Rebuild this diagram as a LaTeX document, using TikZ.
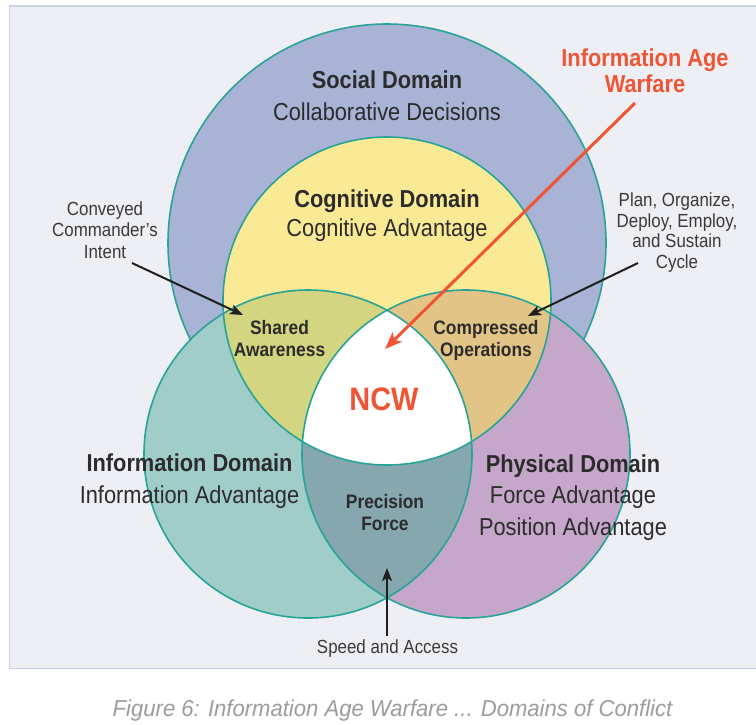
\documentclass[tikz,border=0pt]{standalone}
\usepackage{fontspec}
\setmainfont{Liberation Sans}[FakeStretch=0.89]
\newfontfamily\captionface{Liberation Sans}[FakeStretch=0.96]
\usetikzlibrary{arrows.meta}

% palette
\definecolor{panelbg}{HTML}{EEEFF4}
\definecolor{panelrule}{HTML}{C9D3E1}
\definecolor{socialfill}{HTML}{A9B3D5}
\definecolor{cogfill}{HTML}{FAEA96}
\definecolor{infofill}{HTML}{A0CDC7}
\definecolor{physfill}{HTML}{C5A7CA}
\definecolor{sharedfill}{HTML}{D3D580}
\definecolor{compfill}{HTML}{E2C487}
\definecolor{precfill}{HTML}{87A7AF}
\definecolor{ringcol}{HTML}{28A397}
\definecolor{ncwred}{HTML}{EF5535}
\definecolor{labeltext}{HTML}{2C2C2C}
\definecolor{notetext}{HTML}{3A3A3A}
\definecolor{captiongray}{HTML}{9C9C9C}

\newcommand\fsMain{\fontsize{24.5}{28}\selectfont}
\newcommand\fsSmall{\fontsize{19.5}{22}\selectfont}
\newcommand\fsNote{\fontsize{19}{22}\selectfont}
\newcommand\fsNCW{\fontsize{32.5}{36}\selectfont}
\newcommand\fsCaption{\fontsize{23}{26}\selectfont}

\tikzset{
  ring/.style={draw=ringcol, line width=1.6pt},
  lbl/.style={anchor=base, inner sep=0pt, text=labeltext},
  note/.style={anchor=base, inner sep=0pt, text=notetext, font=\fsNote},
  pointer/.style={draw=black!88, line width=2pt,
    -{Stealth[length=13pt,width=10pt,inset=3pt]}},
  redpointer/.style={draw=ncwred, line width=3pt,
    -{Stealth[length=17pt,width=13pt,inset=4pt]}},
}

\begin{document}
\begin{tikzpicture}[x=1pt,y=-1pt]
\useasboundingbox (0,0) rectangle (756,724);
\fill[white] (0,0) rectangle (756,724);

% background panel
\begin{scope}
  \clip (0,0) rectangle (756,724);
  \draw[draw=panelrule, fill=panelbg, line width=1.5pt] (9.5,6) rectangle (770,668.5);
\end{scope}

% circle centres
\coordinate (cS) at (387,243);
\coordinate (cC) at (387,301);
\coordinate (cI) at (308,454);
\coordinate (cP) at (466,454);

% social domain (lowest layer)
\fill[socialfill] (cS) circle[radius=219pt];
\draw[ring] (cS) circle[radius=219pt];

% information and physical domains
\fill[infofill] (cI) circle[radius=164pt];
\fill[physfill] (cP) circle[radius=164pt];
\begin{scope}
  \clip (cI) circle[radius=164pt];
  \fill[precfill] (cP) circle[radius=164pt];
\end{scope}

% cognitive domain and its overlaps
\fill[cogfill] (cC) circle[radius=164pt];
\begin{scope}
  \clip (cC) circle[radius=164pt];
  \fill[sharedfill] (cI) circle[radius=164pt];
  \fill[compfill] (cP) circle[radius=164pt];
  \clip (cI) circle[radius=164pt];
  \fill[white] (cP) circle[radius=164pt];
\end{scope}

% outlines
\draw[ring] (cI) circle[radius=164pt];
\draw[ring] (cP) circle[radius=164pt];
\draw[ring] (cC) circle[radius=164pt];

% domain labels
\node[lbl, font=\fsMain\bfseries] (socialT) at (387,88) {Social Domain};
\node[lbl, font=\fsMain] (socialS) at (387,120) {Collaborative Decisions};
\node[lbl, font=\fsMain\bfseries] (cogT) at (387,207) {Cognitive Domain};
\node[lbl, font=\fsMain] (cogS) at (387,236) {Cognitive Advantage};
\node[lbl, font=\fsMain\bfseries] (infoT) at (189.5,471.5) {Information Domain};
\node[lbl, font=\fsMain] (infoS) at (189.5,503.5) {Information Advantage};
\node[lbl, font=\fsMain\bfseries] (physT) at (573,472) {Physical Domain};
\node[lbl, font=\fsMain] (physS1) at (573,503.5) {Force Advantage};
\node[lbl, font=\fsMain] (physS2) at (573,535.5) {Position Advantage};

% overlap labels
\node[lbl, font=\fsSmall\bfseries] (shared1) at (279.5,334) {Shared};
\node[lbl, font=\fsSmall\bfseries] (shared2) at (279.5,356) {Awareness};
\node[lbl, font=\fsSmall\bfseries] (comp1) at (486,334.5) {Compressed};
\node[lbl, font=\fsSmall\bfseries] (comp2) at (486,356.5) {Operations};
\node[lbl, font=\fsSmall\bfseries] (prec1) at (385,508.5) {Precision};
\node[lbl, font=\fsSmall\bfseries] (prec2) at (385,530) {Force};
\node[lbl, font=\fsNCW\bfseries, text=ncwred] (ncw) at (384,410) {NCW};

% side notes
\node[note] (intent1) at (105,215) {Conveyed};
\node[note] (intent2) at (105,236.7) {Commander's};
\node[note] (intent3) at (105,258.3) {Intent};
\node[note] (cycle1) at (677,206.7) {Plan, Organize,};
\node[note] (cycle2) at (677,227) {Deploy, Employ,};
\node[note] (cycle3) at (677,247.5) {and Sustain};
\node[note] (cycle4) at (677,268.3) {Cycle};
\node[note] (speed) at (387.5,653.3) {Speed and Access};

\node[lbl, font=\fsMain\bfseries, text=ncwred] (iaw1) at (645,66.7) {Information Age};
\node[lbl, font=\fsMain\bfseries, text=ncwred] (iaw2) at (645,92.7) {Warfare};

% pointers
\coordinate (iawTail) at (635,103);
\coordinate (iawTip) at (385,349);
\coordinate (intentTail) at (132,263);
\coordinate (intentTip) at (243,315);
\coordinate (cycleTail) at (638,263);
\coordinate (cycleTip) at (528,316);
\coordinate (speedTail) at (387,636);
\coordinate (speedTip) at (387,568);
\draw[pointer] (intentTail) -- (intentTip);
\draw[pointer] (cycleTail) -- (cycleTip);
\draw[pointer] (speedTail) -- (speedTip);
\draw[redpointer] (iawTail) -- (iawTip);

% caption
\node[anchor=base, inner sep=0pt, text=captiongray, font=\captionface\itshape\fsCaption]
  (caption) at (392.5,716) {Figure 6: Information Age Warfare ... Domains of Conflict};
\end{tikzpicture}
\end{document}
